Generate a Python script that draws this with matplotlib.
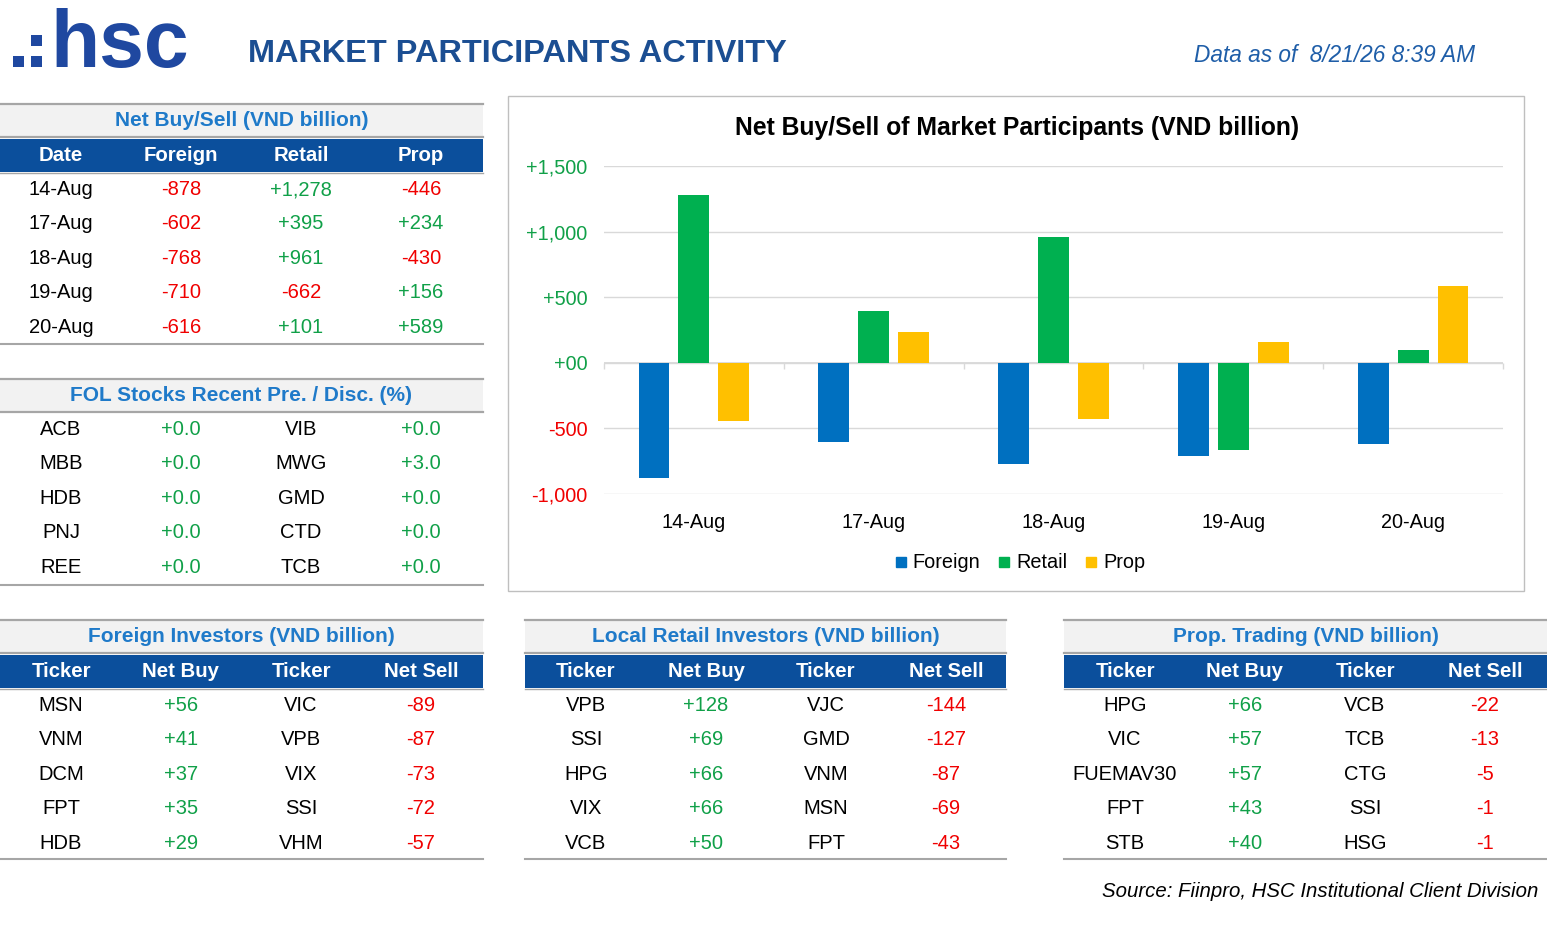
"""
Market participants activity dashboard: net buy/sell tables and bar chart.
"""

import numpy as np
import matplotlib.pyplot as plt
from matplotlib.patches import Rectangle
from matplotlib.lines import Line2D

plt.rcParams['font.family'] = ['Liberation Sans', 'DejaVu Sans']

# data
dates = ['14-Aug', '17-Aug', '18-Aug', '19-Aug', '20-Aug']
foreign = [-878, -602, -768, -710, -616]
retail = [1278, 395, 961, -662, 101]
prop = [-446, 234, -430, 156, 589]

fol_left = ['ACB', 'MBB', 'HDB', 'PNJ', 'REE']
fol_left_val = [0.0, 0.0, 0.0, 0.0, 0.0]
fol_right = ['VIB', 'MWG', 'GMD', 'CTD', 'TCB']
fol_right_val = [0.0, 3.0, 0.0, 0.0, 0.0]

frg_buy = ['MSN', 'VNM', 'DCM', 'FPT', 'HDB']
frg_buy_val = [56, 41, 37, 35, 29]
frg_sell = ['VIC', 'VPB', 'VIX', 'SSI', 'VHM']
frg_sell_val = [-89, -87, -73, -72, -57]

ret_buy = ['VPB', 'SSI', 'HPG', 'VIX', 'VCB']
ret_buy_val = [128, 69, 66, 66, 50]
ret_sell = ['VJC', 'GMD', 'VNM', 'MSN', 'FPT']
ret_sell_val = [-144, -127, -87, -69, -43]

prop_buy = ['HPG', 'VIC', 'FUEMAV30', 'FPT', 'STB']
prop_buy_val = [66, 57, 57, 43, 40]
prop_sell = ['VCB', 'TCB', 'CTG', 'SSI', 'HSG']
prop_sell_val = [-22, -13, -5, -1, -1]

yticks = [-1000, -500, 0, 500, 1000, 1500]

# colours
GREEN = '#10a048'
RED = '#f00000'
DARK = '#0b4f9c'
TITLE_BLUE = '#1f7ac9'
GRAY_LINE = '#a6a6a6'

W, H = 1547, 927
fig = plt.figure(figsize=(W / 100, H / 100), dpi=100)


def fx(x):
    return x / W


def fy(y):
    return 1 - y / H


def put(x, y, s, **kw):
    # y is the baseline in pixels
    kw.setdefault('ha', 'center')
    kw.setdefault('va', 'baseline')
    fig.text(fx(x), fy(y), s, **kw)


def band(x0, x1, y0, y1, color):
    fig.patches.append(Rectangle((fx(x0), fy(y1)), (x1 - x0) / W, (y1 - y0) / H,
                                 transform=fig.transFigure, color=color, lw=0))


def hline(x0, x1, y, color=GRAY_LINE, lw=1.5):
    fig.add_artist(Line2D([fx(x0), fx(x1)], [fy(y), fy(y)],
                          transform=fig.transFigure, color=color, lw=lw))


def sign_color(v):
    return GREEN if v >= 0 else RED


def draw_table(x0, x1, ytop, title, header, cols, first_row, bottom):
    """cols: list of 4 lists of (text, color)"""
    offs = [61, 181, 301, 421]
    band(x0, x1, ytop, ytop + 33, '#f2f2f2')
    hline(x0, x1, ytop, lw=1.6)
    hline(x0, x1, ytop + 33, lw=1.6)
    put((x0 + x1) / 2, ytop + 22, title, color=TITLE_BLUE, fontsize=15,
        fontweight='bold')
    if header is not None:
        band(x0, x1, ytop + 35, ytop + 68, DARK)
        hline(x0, x1, ytop + 68.5, lw=1.0)
        for o, h in zip(offs, header):
            put(x0 + o, ytop + 57, h, color='white', fontsize=14.7,
                fontweight='bold')
    for o, col in zip(offs, cols):
        for i, (s, c) in enumerate(col):
            put(x0 + o, ytop + first_row + 7 + i * 34.4, s, color=c,
                fontsize=14.5)
    hline(x0, x1, ytop + bottom, lw=1.5)


def money_cols(buy, buy_val, sell, sell_val):
    return [[(t, 'black') for t in buy],
            [(f"{v:+,}", sign_color(v)) for v in buy_val],
            [(t, 'black') for t in sell],
            [(f"{v:+,}", sign_color(v)) for v in sell_val]]


# logo
LOGO = '#1f48a0'
for (lx, ly) in [(13, 56), (31, 56), (31, 35)]:
    band(lx, lx + 11, ly, ly + 11, LOGO)
put(50, 67, 'hsc', ha='left', color=LOGO, fontsize=58, fontweight='bold')

put(248, 62, 'MARKET PARTICIPANTS ACTIVITY', ha='left', color='#1b4e92',
    fontsize=23.4, fontweight='bold')
put(1475, 62, 'Data as of  8/21/26 8:39 AM', ha='right', color='#1f5ea8',
    fontsize=16.3, fontstyle='italic')

# left tables
net_cols = [[(d, 'black') for d in dates],
            [(f"{v:+,}", sign_color(v)) for v in foreign],
            [(f"{v:+,}", sign_color(v)) for v in retail],
            [(f"{v:+,}", sign_color(v)) for v in prop]]
draw_table(0, 483, 104, 'Net Buy/Sell (VND billion)',
           ['Date', 'Foreign', 'Retail', 'Prop'], net_cols, 84, 240)

fol_cols = [[(t, 'black') for t in fol_left],
            [(f"{v:+.1f}", sign_color(v)) for v in fol_left_val],
            [(t, 'black') for t in fol_right],
            [(f"{v:+.1f}", sign_color(v)) for v in fol_right_val]]
draw_table(0, 483, 379, 'FOL Stocks Recent Pre. / Disc. (%)', None,
           fol_cols, 49, 206)

hdr = ['Ticker', 'Net Buy', 'Ticker', 'Net Sell']
draw_table(0, 483, 620, 'Foreign Investors (VND billion)', hdr,
           money_cols(frg_buy, frg_buy_val, frg_sell, frg_sell_val), 84, 239)
draw_table(525, 1006, 620, 'Local Retail Investors (VND billion)', hdr,
           money_cols(ret_buy, ret_buy_val, ret_sell, ret_sell_val), 84, 239)
draw_table(1064, 1547, 620, 'Prop. Trading (VND billion)', hdr,
           money_cols(prop_buy, prop_buy_val, prop_sell, prop_sell_val), 84, 239)

put(1538, 897, 'Source: Fiinpro, HSC Institutional Client Division', ha='right',
    color='black', fontsize=14.7, fontstyle='italic')

# chart box
fig.patches.append(Rectangle((fx(508), fy(591)), (1524 - 508) / W, (591 - 96) / H,
                             transform=fig.transFigure, fill=False,
                             edgecolor='#bfbfbf', lw=1))
put(1017, 135, 'Net Buy/Sell of Market Participants (VND billion)',
    color='black', fontsize=17.8, fontweight='bold')

ax = fig.add_axes([fx(604), fy(494), (1503 - 604) / W, (494 - 166) / H])
x = np.arange(len(dates))
bw = 0.172
step = 0.222
ax.bar(x - step, foreign, bw, color='#0070c0', zorder=3)
ax.bar(x, retail, bw, color='#00b050', zorder=3)
ax.bar(x + step, prop, bw, color='#ffc000', zorder=3)
ax.set_xlim(-0.5, len(dates) - 0.5)
ax.set_ylim(yticks[0], yticks[-1])
ax.set_xticks(x)
ax.set_xticklabels(dates)
ax.set_yticks(yticks)
ax.set_yticklabels(['+00' if v == 0 else f"{v:+,}" for v in yticks])
for lab, v in zip(ax.get_yticklabels(), yticks):
    lab.set_color(sign_color(v))
ax.grid(axis='y', color='#d9d9d9', lw=1, zorder=0)
ax.axhline(0, color='#d9d9d9', lw=1.3, zorder=2)
ax.vlines(np.arange(-0.5, len(dates)), -45, 0, color='#d9d9d9', lw=1,
          clip_on=False, zorder=2)
for s in ax.spines.values():
    s.set_visible(False)
ax.tick_params(axis='both', length=0, labelsize=14.3)
ax.tick_params(axis='x', pad=14)
ax.tick_params(axis='y', pad=12)

handles = [Line2D([], [], ls='none', marker='s', markersize=7, color=c)
           for c in ['#0070c0', '#00b050', '#ffc000']]
fig.legend(handles, ['Foreign', 'Retail', 'Prop'], loc='center',
           bbox_to_anchor=(fx(1020), fy(563)), ncol=3, frameon=False,
           fontsize=14.3, handlelength=0.6, handletextpad=0.3,
           columnspacing=0.9)

fig.savefig('out.png', dpi=100)
